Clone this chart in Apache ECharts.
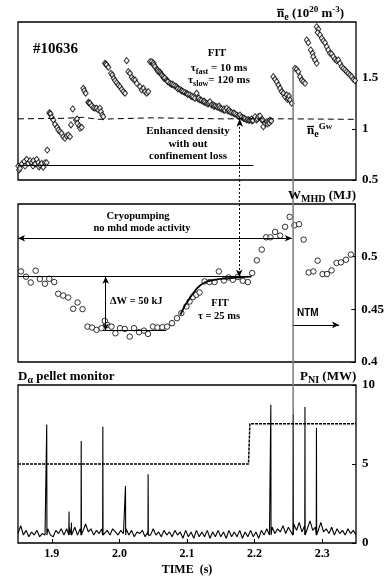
<!DOCTYPE html>
<html>
<head>
<meta charset="utf-8">
<script src="https://cdn.jsdelivr.net/npm/echarts@6/dist/echarts.min.js"></script>
<style>
  html, body { margin: 0; background: #fff; }
  #chart { width: 387px; height: 580px; }
</style>
</head>
<body>
<div id="chart"></div>
<script>
// time axis (s)
const timeRange = [1.85, 2.35]
const timeTicks = [1.9, 2.0, 2.1, 2.2, 2.3]
const densityTicks = [0.5, 1.0, 1.5]
const energyTicks = [0.4, 0.45, 0.5]
const powerTicks = [0, 5, 10]

// line-averaged density, 10^20 m^-3
const densityPoints = [
  [1.8504, 0.637], [1.8515, 0.598], [1.8530, 0.615], [1.8555, 0.657], [1.8593, 0.680], [1.8604, 0.637],
  [1.8629, 0.703], [1.8652, 0.664], [1.8678, 0.689], [1.8703, 0.670], [1.8722, 0.637], [1.8726, 0.689],
  [1.8751, 0.657], [1.8777, 0.703], [1.8800, 0.670], [1.8811, 0.628], [1.8825, 0.647], [1.8851, 0.664],
  [1.8874, 0.625], [1.8899, 0.670], [1.8924, 0.670], [1.8933, 0.794],
  [1.8963, 1.160], [1.8973, 1.153], [1.8983, 1.148], [1.8998, 1.115], [1.9022, 1.089], [1.9047, 1.047],
  [1.9081, 1.017], [1.9096, 0.991], [1.9121, 0.974], [1.9146, 0.958], [1.9170, 0.925], [1.9195, 0.909],
  [1.9220, 0.932], [1.9244, 0.942], [1.9269, 0.925],
  [1.9284, 1.040], [1.9309, 1.197], [1.9358, 1.089], [1.9373, 1.099], [1.9377, 1.056], [1.9407, 1.030],
  [1.9417, 1.007], [1.9442, 1.017],
  [1.9466, 1.400], [1.9481, 1.376], [1.9501, 1.351], [1.9540, 1.263], [1.9550, 1.256], [1.9565, 1.253],
  [1.9590, 1.229], [1.9614, 1.210], [1.9639, 1.204], [1.9664, 1.204], [1.9687, 1.187], [1.9712, 1.204],
  [1.9727, 1.170], [1.9746, 1.138], [1.9761, 1.121],
  [1.9787, 1.645], [1.9799, 1.638], [1.9812, 1.629], [1.9836, 1.606], [1.9876, 1.547], [1.9895, 1.530],
  [1.9916, 1.498], [1.9935, 1.475], [1.9960, 1.455], [1.9984, 1.432], [2.0009, 1.416], [2.0034, 1.390],
  [2.0058, 1.367], [2.0083, 1.351], [2.0108, 1.671],
  [2.0132, 1.563], [2.0157, 1.547], [2.0182, 1.508], [2.0206, 1.488], [2.0231, 1.481], [2.0256, 1.449],
  [2.0305, 1.416], [2.0330, 1.383], [2.0354, 1.400], [2.0379, 1.367], [2.0404, 1.351], [2.0427, 1.367],
  [2.0453, 1.661], [2.0478, 1.661], [2.0492, 1.638], [2.0504, 1.648], [2.0512, 1.629], [2.0527, 1.612],
  [2.0552, 1.586], [2.0564, 1.579], [2.0575, 1.563], [2.0600, 1.560], [2.0611, 1.547], [2.0623, 1.535],
  [2.0630, 1.526], [2.0649, 1.514], [2.0660, 1.496], [2.0674, 1.501], [2.0699, 1.481], [2.0712, 1.471],
  [2.0718, 1.462], [2.0748, 1.449], [2.0769, 1.437], [2.0777, 1.442], [2.0796, 1.432], [2.0821, 1.423],
  [2.0846, 1.416], [2.0858, 1.403], [2.0865, 1.393], [2.0895, 1.390], [2.0917, 1.378], [2.0923, 1.373],
  [2.0944, 1.367], [2.0969, 1.359], [2.0994, 1.351], [2.1005, 1.344], [2.1013, 1.339], [2.1043, 1.334],
  [2.1065, 1.319], [2.1071, 1.324], [2.1091, 1.312], [2.1117, 1.300], [2.1142, 1.351], [2.1163, 1.295],
  [2.1175, 1.305], [2.1192, 1.285], [2.1214, 1.280], [2.1241, 1.268], [2.1251, 1.275], [2.1266, 1.261],
  [2.1291, 1.253], [2.1311, 1.246], [2.1325, 1.256], [2.1340, 1.268], [2.1362, 1.236], [2.1389, 1.236],
  [2.1399, 1.221], [2.1414, 1.226], [2.1439, 1.219], [2.1459, 1.211], [2.1473, 1.226], [2.1488, 1.204],
  [2.1510, 1.197], [2.1537, 1.187], [2.1547, 1.197], [2.1562, 1.182], [2.1587, 1.204], [2.1606, 1.177],
  [2.1621, 1.187], [2.1636, 1.170], [2.1658, 1.162], [2.1685, 1.155], [2.1695, 1.158], [2.1710, 1.148],
  [2.1735, 1.138], [2.1754, 1.128], [2.1769, 1.123], [2.1784, 1.138], [2.1806, 1.118], [2.1833, 1.106],
  [2.1843, 1.108], [2.1858, 1.099], [2.1883, 1.089], [2.1902, 1.094], [2.1917, 1.084], [2.1932, 1.089],
  [2.1954, 1.099], [2.1962, 1.079], [2.1976, 1.084], [2.2006, 1.121], [2.2028, 1.089], [2.2043, 1.099],
  [2.2055, 1.121], [2.2080, 1.128], [2.2105, 1.089], [2.2117, 1.094], [2.2129, 1.023], [2.2154, 1.056],
  [2.2179, 1.072], [2.2188, 1.050], [2.2203, 1.072], [2.2217, 1.059], [2.2228, 1.089], [2.2247, 1.079],
  [2.2277, 1.514], [2.2302, 1.488], [2.2327, 1.465], [2.2351, 1.432], [2.2376, 1.400], [2.2401, 1.367],
  [2.2425, 1.351], [2.2450, 1.318], [2.2475, 1.334], [2.2487, 1.290], [2.2499, 1.302], [2.2509, 1.324],
  [2.2524, 1.285], [2.2549, 1.253],
  [2.2598, 1.596], [2.2623, 1.586], [2.2646, 1.563], [2.2672, 1.514], [2.2697, 1.481], [2.2720, 1.465],
  [2.2746, 1.449],
  [2.2771, 1.874], [2.2794, 1.847], [2.2830, 1.776], [2.2859, 1.743], [2.2868, 1.710], [2.2893, 1.678],
  [2.2918, 1.645],
  [2.2918, 2.004], [2.2942, 1.979], [2.2933, 1.946], [2.2967, 1.923], [2.2993, 1.891], [2.3016, 1.867],
  [2.3041, 1.847], [2.3067, 1.808], [2.3090, 1.776], [2.3115, 1.743], [2.3140, 1.737], [2.3164, 1.710],
  [2.3189, 1.685], [2.3214, 1.671], [2.3238, 1.678], [2.3263, 1.645], [2.3288, 1.612], [2.3312, 1.596],
  [2.3337, 1.580], [2.3362, 1.563], [2.3386, 1.547], [2.3411, 1.530], [2.3436, 1.514], [2.3460, 1.488],
  [2.3485, 1.475],
]

// Greenwald density limit
const greenwaldLine = [
  [1.85, 1.10], [1.92, 1.105], [1.945, 1.115], [1.97, 1.095], [1.99, 1.10], [2.05, 1.11],
  [2.15, 1.10], [2.25, 1.10], [2.35, 1.095],
]

// stored energy W_MHD (MJ)
const energyPoints = [
  [1.8544, 0.486], [1.8618, 0.481], [1.8688, 0.4755], [1.8762, 0.4867], [1.8825, 0.4788], [1.8899, 0.4743],
  [1.8963, 0.479], [1.9037, 0.4759], [1.9096, 0.4648], [1.9170, 0.4631], [1.9244, 0.4612], [1.9318, 0.4505],
  [1.9383, 0.4565], [1.9457, 0.4502], [1.9531, 0.4336], [1.9599, 0.4327], [1.9664, 0.4305], [1.9738, 0.4321],
  [1.9787, 0.439], [1.9827, 0.4352], [1.9886, 0.4336], [1.9945, 0.4273], [2.0013, 0.4321], [2.0083, 0.4314],
  [2.0157, 0.4241], [2.0220, 0.4321], [2.0294, 0.4283], [2.0368, 0.4298], [2.0427, 0.4267], [2.0501, 0.4336],
  [2.0567, 0.4327], [2.0641, 0.433], [2.0709, 0.4336], [2.0783, 0.4369], [2.0857, 0.4416], [2.0922, 0.4464],
  [2.0996, 0.4527], [2.1044, 0.4574], [2.1093, 0.4616], [2.1143, 0.4638], [2.1192, 0.466], [2.1266, 0.4765],
  [2.1340, 0.4759], [2.1414, 0.4759], [2.1478, 0.486], [2.1552, 0.4774], [2.1621, 0.4803], [2.1685, 0.4781],
  [2.1759, 0.4807], [2.1833, 0.4771], [2.1907, 0.4759], [2.1972, 0.4845], [2.2040, 0.4965], [2.2114, 0.5067],
  [2.2179, 0.5184], [2.2243, 0.5184], [2.2312, 0.5235], [2.2386, 0.52], [2.2460, 0.5283], [2.2528, 0.5378],
  [2.2598, 0.5298], [2.2667, 0.5308], [2.2735, 0.5162], [2.2809, 0.485], [2.2879, 0.486], [2.2942, 0.4962],
  [2.3016, 0.4835], [2.3081, 0.4835], [2.3149, 0.487], [2.3223, 0.494], [2.3288, 0.4946], [2.3362, 0.4971],
  [2.3436, 0.5019],
]

// FIT tau = 25 ms
const energyFit = [
  [2.091, 0.445], [2.097, 0.453], [2.102, 0.458], [2.107, 0.463], [2.112, 0.467], [2.117, 0.471],
  [2.127, 0.4755], [2.141, 0.478], [2.161, 0.4795], [2.18, 0.4805], [2.196, 0.481],
]

// D-alpha pellet monitor (a.u.), sampled from dAlphaStart every dAlphaStep
const dAlphaStart = 1.85
const dAlphaStep = 0.004
const dAlphaBaseline = [
  0.6, 1.1, 0.5, 0.8, 0.4, 0.7, 0.5, 0.8, 0.4, 0.6,
  0.5, 0.9, 0.5, 0.4, 0.8, 0.6, 0.9, 0.5, 0.9, 1.0,
  0.6, 1.0, 0.5, 0.9, 0.6, 1.2, 0.7, 0.9, 0.5, 0.8,
  0.6, 0.9, 0.4, 0.8, 0.5, 0.9, 0.7, 0.5, 0.8, 0.6,
  0.9, 0.5, 0.8, 0.4, 0.7, 0.6, 0.8, 0.4, 0.7, 0.5,
  0.9, 0.5, 0.7, 0.4, 0.8, 0.5, 0.7, 0.4, 0.8, 0.5,
  0.7, 0.3, 0.8, 0.4, 0.7, 0.3, 0.8, 0.4, 0.7, 0.4,
  0.8, 0.3, 0.7, 0.4, 0.8, 0.4, 0.7, 0.3, 0.8, 0.4,
  0.7, 0.4, 0.8, 0.3, 0.7, 0.4, 0.8, 0.4, 0.7, 0.3,
  0.8, 0.5, 0.9, 0.5, 1.0, 0.6, 0.9, 0.7, 1.1, 0.6,
  1.0, 0.7, 1.2, 0.8, 1.3, 0.7, 1.1, 0.9, 1.4, 0.8,
  1.0, 0.6, 1.3, 0.7, 0.9, 0.6, 1.0, 0.5, 0.9, 0.6,
  0.8, 0.5, 0.9, 0.6, 0.8, 0.5,
]
const pelletSpikes = [
  [1.8925, 7.5], [1.9255, 2.0], [1.929, 1.3], [1.9435, 6.45], [1.9755, 7.35], [2.009, 3.6],
  [2.0425, 4.35], [2.224, 8.75], [2.257, 8.2], [2.2745, 8.6], [2.2915, 7.3],
]
const spikeBase = 0.5

// neutral beam power P_NI (MW)
const nbiPower = [[1.85, 5.0], [2.191, 5.0], [2.193, 7.55], [2.35, 7.55]]

// annotation lines
const lowDensityLine = [[1.85, 0.647], [2.198, 0.647]]
const pelletArrow = [[2.178, 1.10], [2.178, 0.481]]   // top tip (density), bottom tip (energy)
const ntmLine = [[2.257, 1.585], [2.257, 8.2]]        // top (density), bottom (power)
const energyPlateau = [[1.85, 0.481], [2.196, 0.481]]
const energyDip = [[1.976, 0.430], [2.070, 0.430]]
const deltaWArrow = [[1.980, 0.481], [1.980, 0.430]]
const cryoArrow = [[1.85, 0.5175], [2.256, 0.5175]]
const ntmArrow = [[2.257, 0.4352], [2.326, 0.4352]]

const dAlphaTrace = dAlphaBaseline.map((v, i) => [dAlphaStart + i * dAlphaStep, v])
pelletSpikes.forEach(([t, p]) => {
  dAlphaTrace.push([t - 0.0003, spikeBase], [t, p], [t + 0.0003, spikeBase])
})
dAlphaTrace.sort((a, b) => a[0] - b[0])

const SERIF = 'Liberation Serif'
const tickFont = { color: '#000', fontFamily: SERIF, fontWeight: 'bold', fontSize: 13 }

const grids = [22, 204, 385].map((top) => ({
  left: 18, top, width: 338, height: 158,
  show: true, borderColor: '#000', borderWidth: 1.3, backgroundColor: 'transparent',
}))

function xAxisFor(gridIndex, withLabels) {
  return {
    type: 'value', gridIndex, min: timeRange[0], max: timeRange[1],
    axisLine: { show: false },
    splitLine: { show: false },
    axisTick: withLabels
      ? { show: true, inside: true, length: 4, customValues: timeTicks, lineStyle: { color: '#000' } }
      : { show: false },
    axisLabel: withLabels
      ? { show: true, customValues: timeTicks, margin: 5, formatter: (v) => v.toFixed(1), ...tickFont, fontSize: 12 }
      : { show: false },
    name: withLabels ? 'TIME  (s)' : '',
    nameLocation: 'middle',
    nameGap: 21,
    nameTextStyle: { ...tickFont, fontSize: 12 },
  }
}

function yAxisFor(gridIndex, min, max, ticks) {
  return {
    type: 'value', gridIndex, min, max, position: 'right',
    axisLine: { show: false },
    splitLine: { show: false },
    axisTick: { show: true, inside: true, length: 4, customValues: ticks, lineStyle: { color: '#000' } },
    axisLabel: { show: true, customValues: ticks, margin: 6, ...tickFont },
  }
}

function seg(points, style, symbols) {
  return [
    { coord: points[0], symbol: symbols ? symbols[0] : 'none', lineStyle: style },
    { coord: points[1], symbol: symbols ? symbols[1] : 'none' },
  ]
}

const solid = { color: '#000', width: 1, type: 'solid' }
const dotted = { color: '#000', width: 1, type: [2, 2] }

const option = {
  animation: false,
  backgroundColor: '#fff',
  grid: grids,
  xAxis: [xAxisFor(0, false), xAxisFor(1, false), xAxisFor(2, true)],
  yAxis: [
    yAxisFor(0, 0.5, 2.05, densityTicks),
    yAxisFor(1, 0.4, 0.55, energyTicks),
    yAxisFor(2, 0, 10, powerTicks),
  ],
  series: [
    {
      type: 'line', xAxisIndex: 0, yAxisIndex: 0, data: greenwaldLine, silent: true,
      symbol: 'none', lineStyle: { color: '#000', width: 1, type: [6, 4] },
      markLine: {
        silent: true, animation: false, label: { show: false }, symbolSize: [5, 8],
        data: [
          seg(lowDensityLine, solid),
          seg([pelletArrow[0], [pelletArrow[0][0], 0.5]], dotted, ['arrow', 'none']),
        ],
      },
    },
    {
      type: 'scatter', xAxisIndex: 0, yAxisIndex: 0, data: densityPoints, silent: true,
      symbol: 'diamond', symbolSize: [5, 6],
      itemStyle: { color: '#fff', borderColor: '#000', borderWidth: 1 },
    },
    {
      type: 'line', xAxisIndex: 1, yAxisIndex: 1, data: energyFit, silent: true, smooth: true,
      symbol: 'none', lineStyle: { color: '#000', width: 1.8 },
      markLine: {
        silent: true, animation: false, label: { show: false }, symbolSize: [5, 7],
        data: [
          seg(energyPlateau, solid),
          seg(energyDip, solid),
          seg(deltaWArrow, solid, ['arrow', 'arrow']),
          seg(cryoArrow, solid, ['arrow', 'arrow']),
          seg(ntmArrow, solid, ['none', 'arrow']),
          seg([[pelletArrow[1][0], 0.55], pelletArrow[1]], dotted, ['none', 'arrow']),
        ],
      },
    },
    {
      type: 'scatter', xAxisIndex: 1, yAxisIndex: 1, data: energyPoints, silent: true,
      symbol: 'circle', symbolSize: 5.5,
      itemStyle: { color: '#fff', borderColor: '#000', borderWidth: 1 },
    },
    {
      type: 'line', xAxisIndex: 2, yAxisIndex: 2, data: nbiPower, silent: true,
      symbol: 'none', lineStyle: { color: '#000', width: 1.5, type: [3, 1] },
    },
    {
      type: 'line', xAxisIndex: 2, yAxisIndex: 2, data: dAlphaTrace, silent: true,
      symbol: 'none', lineStyle: { color: '#000', width: 1.1 },
    },
  ],
}

const chart = echarts.init(document.getElementById('chart'), null, { renderer: 'canvas' })
chart.setOption(option)

const toPx = (gridIndex, p) => chart.convertToPixel({ gridIndex }, p)

function richStyles(size) {
  const base = { fontFamily: SERIF, fontWeight: 'bold', fill: '#000', color: '#000' }
  return {
    b: { ...base, fontSize: size, lineHeight: size + 4 },
    s: { ...base, fontSize: size - 3, verticalAlign: 'bottom', lineHeight: size + 4 },
    p: { ...base, fontSize: size - 4, verticalAlign: 'top', lineHeight: size + 4 },
  }
}

function label(text, x, y, size, align) {
  return {
    type: 'text', x, y, z: 20, silent: true,
    style: {
      text, rich: richStyles(size),
      align: align || 'left', textAlign: align || 'left',
      verticalAlign: 'middle', textVerticalAlign: 'middle',
      fill: '#000', font: `bold ${size}px "${SERIF}"`,
    },
  }
}

// bar over the density symbol n
function overbar(x, y) {
  return {
    type: 'line', z: 20, silent: true,
    shape: { x1: x, y1: y, x2: x + 7, y2: y },
    style: { stroke: '#000', lineWidth: 1.3 },
  }
}

const ntmTop = toPx(0, ntmLine[0])
const ntmBottom = toPx(2, ntmLine[1])
const dotGapTop = toPx(0, [pelletArrow[0][0], 0.5])
const dotGapBottom = toPx(1, [pelletArrow[1][0], 0.55])

chart.setOption({
  graphic: [
    {
      type: 'line', z: 15, silent: true,
      shape: { x1: ntmTop[0], y1: ntmTop[1], x2: ntmBottom[0], y2: ntmBottom[1] },
      style: { stroke: '#7a7a7a', lineWidth: 1.5 },
    },
    {
      type: 'line', z: 15, silent: true,
      shape: { x1: dotGapTop[0], y1: dotGapTop[1], x2: dotGapBottom[0], y2: dotGapBottom[1] },
      style: { stroke: '#000', lineWidth: 1, lineDash: [2, 2] },
    },
    label('{b|n}{s|e}{b| (10}{p|20}{b| m}{p|-3}{b|)}', 277, 14, 13),
    overbar(277, 9.5),
    label('{b|#10636}', 33, 49, 15),
    label('{b|FIT}', 217, 53, 11, 'center'),
    label('{b|\u03c4}{s|fast}{b| = 10 ms}', 219, 68, 11, 'center'),
    label('{b|\u03c4}{s|slow}{b|= 120 ms}', 219, 80, 11, 'center'),
    label('{b|Enhanced density}', 188, 131, 11, 'center'),
    label('{b|with out}', 188, 144, 11, 'center'),
    label('{b|confinement loss}', 188, 156, 11, 'center'),
    label('{b|n}{s|e}{p|Gw}', 307, 131, 13),
    overbar(307, 126.5),
    label('{b|W}{s|MHD}{b| (MJ)}', 288, 196, 13),
    label('{b|Cryopumping}', 138, 216, 10.5, 'center'),
    label('{b|no mhd mode activity}', 142, 228, 10.5, 'center'),
    label('{b|\u0394W = 50 kJ}', 110, 301, 10.5),
    label('{b|FIT}', 220, 303, 10.5, 'center'),
    label('{b|\u03c4 = 25 ms}', 219, 316, 10.5, 'center'),
    {
      type: 'text', x: 297, y: 313, z: 20, silent: true,
      style: { text: 'NTM', fill: '#000', font: 'bold 10px "Liberation Sans"', verticalAlign: 'middle', textVerticalAlign: 'middle' },
    },
    label('{b|D}{s|\u03b1}{b| pellet monitor}', 18, 377, 13),
    label('{b|P}{s|NI}{b| (MW)}', 300, 377, 13),
  ],
})
</script>
</body>
</html>
